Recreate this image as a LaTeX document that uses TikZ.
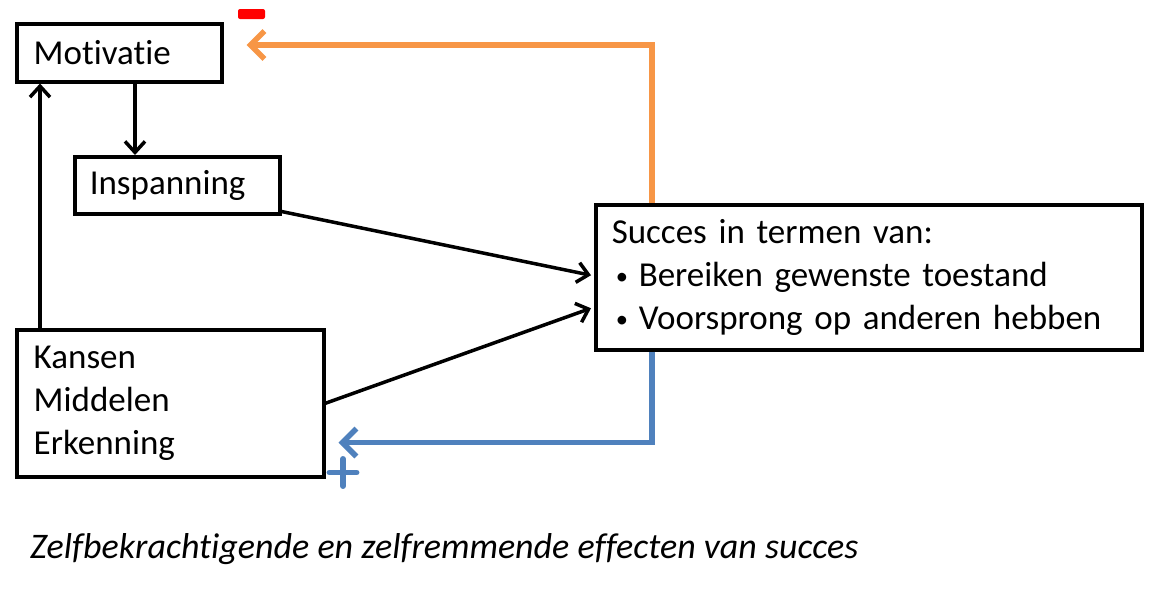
\documentclass[tikz,border=0pt]{standalone}
\usepackage{fontspec}
\setmainfont{Carlito}[Ligatures={NoCommon}]
\usetikzlibrary{arrows.meta}
\definecolor{orng}{HTML}{F79646}
\definecolor{blu}{HTML}{4F81BD}
\definecolor{minusred}{HTML}{FF0000}
\newcommand{\smallbullet}{\makebox[27pt][l]{\hspace{4pt}\raisebox{2pt}{\scalebox{0.7}{\textbullet}}}}
\begin{document}
\begin{tikzpicture}[x=1pt,y=-1pt,
  box/.style={draw=black,line width=3.5pt,font=\fontsize{35}{43}\selectfont,align=left,
    inner ysep=0pt,anchor=north west},
  blk/.style={line width=3.5pt,-{Straight Barb[length=11pt,width=20pt]}},
  orangearrow/.style={draw=orng,line width=5.5pt,-{Straight Barb[length=14pt,width=28pt]}},
  bluearrow/.style={draw=blu,line width=5.5pt,-{Straight Barb[length=14pt,width=28pt]}},
  signline/.style={draw=blu,line width=5.5pt,line cap=round},
  caption/.style={font=\fontsize{36}{43}\selectfont\itshape,anchor=base west,inner sep=0pt}
]
\useasboundingbox (0,0) rectangle (1163,605);

\node[box,inner xsep=17pt,text width=171pt,minimum height=58pt] (mot) at (15,22) {Motivatie};
\node[box,inner xsep=15pt,text width=175pt,minimum height=57pt] (insp) at (73,155) {Inspanning};
\node[box,inner xsep=16pt,text width=514pt,minimum height=145pt] (succ) at (594,203)
  {Succes in termen van:\\
   \smallbullet Bereiken gewenste toestand\\
   \smallbullet Voorsprong op anderen hebben};
\node[box,inner xsep=17pt,text width=273pt,minimum height=147pt] (kan) at (15,328)
  {Kansen\\Middelen\\Erkenning};

\draw[blk] ([xshift=120pt]mot.south west) -- ([xshift=62pt]insp.north west);
\draw[blk] ([xshift=25pt]kan.north west) -- ([xshift=25pt]mot.south west);
\draw[blk] ([yshift=4pt]insp.south east) -- ([xshift=-3pt,yshift=2pt]succ.west);
\draw[blk] (kan.east) -- ([xshift=-3pt,yshift=-31pt]succ.west);

\draw[orangearrow] ([xshift=58pt]succ.north west) |- ([xshift=23pt,yshift=-23pt]mot.north east);
\draw[bluearrow] ([xshift=58pt]succ.south west) |- ([xshift=13pt,yshift=36pt]kan.south east);

\node[fill=minusred,rounded corners=2pt,minimum width=27pt,minimum height=10pt,inner sep=0pt] (minus) at (251.5,14) {};
\node[minimum size=27pt,inner sep=0pt] (plus) at (343,472.5) {};
\draw[signline] (plus.west) -- (plus.east) (plus.north) -- (plus.south);

\node[caption] (cap) at (30,558) {Zelfbekrachtigende en zelfremmende effecten van succes};
\end{tikzpicture}
\end{document}
